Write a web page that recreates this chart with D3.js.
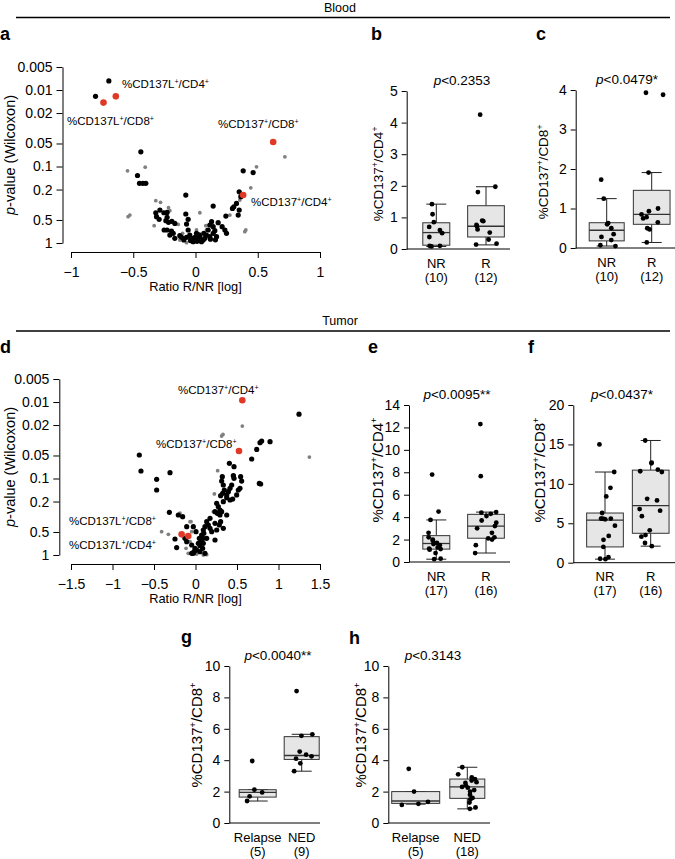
<!DOCTYPE html>
<html><head><meta charset="utf-8">
<script src="https://cdn.jsdelivr.net/npm/d3@7"></script>
<style>body{margin:0;background:#fff} svg{display:block}</style>
</head><body><svg id="c" width="675" height="859"></svg>
<script>
// ---------------- DATA ----------------
const pTicks = [0.005, 0.01, 0.02, 0.05, 0.1, 0.2, 0.5, 1];
const pTickLabels = ["0.005", "0.01", "0.02", "0.05", "0.1", "0.2", "0.5", "1"];
const bloodRatioTicks = [-1, -0.5, 0, 0.5, 1];
const tumorRatioTicks = [-1.5, -1, -0.5, 0, 0.5, 1, 1.5];

// Blood volcano: [ratio R/NR (log), p-value]
const bloodBlack = [[-0.696,0.0076],[-0.803,0.0121],[-0.439,0.0643],[-0.466,0.131],[-0.45,0.166],[-0.423,0.166],[-0.399,0.166],[-0.078,0.236],[-0.319,0.402],[-0.286,0.371],[-0.254,0.402],[-0.228,0.398],[-0.292,0.491],[-0.228,0.462],[-0.238,0.511],[-0.217,0.537],[-0.19,0.521],[-0.166,0.554],[-0.078,0.418],[-0.059,0.491],[-0.072,0.565],[-0.252,0.676],[-0.228,0.676],[-0.193,0.697],[-0.179,0.748],[-0.166,0.869],[-0.126,0.802],[-0.094,0.914],[-0.059,0.676],[-0.046,0.787],[-0.032,0.869],[-0.019,0.914],[0.008,0.748],[0.035,0.826],[0.062,0.914],[-0.019,0.961],[0.102,0.676],[0.115,0.826],[0.129,0.527],[0.142,0.612],[0.155,0.69],[0.142,0.748],[0.169,0.826],[0.182,0.543],[0.214,0.612],[0.236,0.676],[0.249,0.748],[0.142,0.329],[0.244,0.444],[0.297,0.353],[0.308,0.336],[0.329,0.304],[0.351,0.214],[0.364,0.248],[0.351,0.371],[0.343,0.431],[0.383,0.114],[0.463,0.12],[0.021,0.869],[0.048,0.961],[0.075,0.869],[0.088,0.787],[-0.005,0.843],[-0.072,0.843],[-0.112,0.843],[-0.206,0.787],[-0.313,0.453],[0.115,0.582],[0.067,0.748],[0.0,0.9],[0.012,0.95],[-0.04,0.93],[0.03,0.78],[0.12,0.89],[0.16,0.91]];
const bloodGray = [[-0.546,0.114],[-0.404,0.102],[-0.541,0.453],[-0.527,0.431],[-0.319,0.28],[-0.281,0.294],[-0.217,0.346],[-0.206,0.378],[-0.332,0.594],[-0.139,0.571],[0.035,0.402],[0.083,0.594],[0.276,0.431],[0.356,0.275],[0.396,0.711],[0.404,0.676],[0.444,0.19],[0.49,0.101],[0.718,0.0747],[-0.126,0.914],[-0.072,0.99],[-0.032,0.914],[0.008,0.676],[0.088,0.676],[-0.104,0.748]];
const bloodRed = [[-0.739,0.0146],[-0.64,0.0121],[0.624,0.0479],[0.383,0.2353]];

// Tumor volcano
const tumorBlack = [[1.247,0.0144],[-0.677,0.0493],[-0.657,0.0798],[-0.468,0.1026],[-0.468,0.1413],[-0.307,0.0839],[0.777,0.034],[0.797,0.0324],[0.898,0.033],[0.737,0.0416],[0.677,0.0556],[0.408,0.0634],[0.464,0.07],[0.769,0.116],[0.785,0.118],[0.323,0.0946],[0.315,0.108],[0.335,0.1216],[0.347,0.1413],[0.327,0.156],[0.376,0.164],[0.396,0.1486],[0.416,0.1345],[0.436,0.1216],[0.456,0.0918],[0.464,0.0995],[0.544,0.0946],[0.556,0.108],[0.536,0.1345],[0.516,0.1413],[0.496,0.164],[0.448,0.1855],[0.416,0.191],[0.376,0.178],[0.335,0.201],[0.303,0.1676],[0.255,0.211],[0.275,0.2336],[0.295,0.258],[0.235,0.2716],[0.263,0.285],[0.315,0.2716],[0.295,0.3],[0.376,0.3],[0.235,0.3855],[0.175,0.332],[0.135,0.367],[0.155,0.4055],[0.114,0.4264],[0.175,0.448],[0.195,0.4955],[0.255,0.471],[0.303,0.367],[0.335,0.448],[0.287,0.4055],[0.235,0.637],[0.094,0.471],[0.074,0.548],[0.094,0.606],[0.062,0.67],[0.094,0.704],[0.054,0.755],[0.086,0.818],[0.054,0.904],[0.014,0.861],[-0.018,0.904],[-0.046,0.951],[0.114,0.951],[0.034,0.704],[-0.315,0.277],[-0.207,0.3],[-0.155,0.3155],[-0.106,0.4264],[-0.247,0.618],[-0.127,0.606],[-0.106,0.67],[-0.227,0.8],[-0.046,0.74],[-0.006,0.818],[0.006,0.4955],[-0.026,0.4264],[-0.026,0.951],[0.135,0.606],[0.1,0.52],[0.046,0.606]];
const tumorGray = [[0.564,0.0206],[0.315,0.0278],[0.331,0.0265],[1.372,0.0524],[0.267,0.079],[0.466,0.0918],[0.227,0.159],[-0.054,0.367],[-0.408,0.4955],[-0.327,0.537],[-0.114,0.818],[-0.087,0.951],[-0.066,0.367],[-0.046,0.4955],[-0.066,0.67],[0.094,1.0],[0.215,0.2716],[-0.187,0.283],[0.135,0.99],[0.014,0.97],[0.263,0.471]];
const tumorRed = [[0.564,0.0095],[0.524,0.0437],[-0.167,0.537],[-0.087,0.565]];

// Box plots: categories, counts, values, and [whiskerLow, Q1, median, Q3, whiskerHigh]
const respCats = ["NR", "R"];
const outcomeCats = ["Relapse", "NED"];
const bloodCounts = ["(10)", "(12)"];
const tumorCounts = ["(17)", "(16)"];
const gCounts = ["(5)", "(9)"];
const hCounts = ["(5)", "(18)"];

const bloodCD4NR = [1.42,1.1,0.85,0.7,0.6,0.5,0.38,0.1,0.1,0.08];
const bloodCD4R  = [4.25,1.97,1.8,0.9,0.88,0.76,0.72,0.62,0.52,0.3,0.17,0.14];
const bloodCD4Stats = [[0.08,0.12,0.52,0.83,1.42],[0.13,0.38,0.72,1.37,1.97]];

const bloodCD8NR = [1.73,1.25,0.63,0.6,0.5,0.35,0.28,0.2,0.07,0.05];
const bloodCD8R  = [3.93,3.88,1.91,1.0,0.93,0.85,0.78,0.75,0.65,0.5,0.47,0.14];
const bloodCD8Stats = [[0.05,0.18,0.45,0.64,1.25],[0.14,0.6,0.85,1.46,1.91]];

const tumorCD4NR = [7.8,4.5,3.75,2.6,2.2,2.0,1.9,1.7,1.6,1.5,1.3,1.2,1.15,1.1,0.8,0.3,0.25];
const tumorCD4R  = [12.3,7.65,4.45,4.4,4.3,4.1,3.7,3.5,3.2,3.0,2.6,2.2,2.1,2.0,1.5,0.8];
const tumorCD4Stats = [[0.25,1.15,1.65,2.35,3.75],[0.8,2.12,3.2,4.25,4.45]];

const tumorCD8NR = [15.0,11.5,9.5,8.4,6.3,5.6,5.6,5.6,5.55,5.5,4.7,3.4,2.9,2.0,0.7,0.5,0.45];
const tumorCD8R  = [15.5,12.7,12.6,11.8,11.6,11.5,8.1,7.9,6.8,6.6,5.9,4.1,3.5,3.3,2.5,2.1];
const tumorCD8Stats = [[0.45,2.0,5.4,6.3,11.5],[2.1,3.73,7.25,11.74,15.5]];

const gRelapse = [3.95,2.12,1.95,1.7,1.4];
const gNED     = [8.4,5.65,5.55,4.55,4.35,4.25,4.1,3.8,3.3];
const gStats = [[1.4,1.65,1.95,2.12,2.12],[3.3,4.05,4.3,5.5,5.65]];

const hRelapse = [3.45,2.0,1.35,1.22,1.15];
const hNED     = [3.55,3.1,2.9,2.8,2.7,2.6,2.55,2.4,2.3,2.25,2.1,2.0,1.8,1.6,1.5,1.3,1.0,0.9];
const hStats = [[1.2,1.25,1.4,2.0,2.0],[0.9,1.57,2.3,2.8,3.55]];

// ---------------- DRAWING ----------------
const FONT = '"Liberation Sans", Arial, Helvetica, sans-serif';
const svg = d3.select("#c").attr("font-family", FONT);

function styleAxis(sel, fs) {
  sel.attr("font-family", FONT).attr("font-size", fs);
  sel.selectAll("text").attr("fill", "#000");
  sel.selectAll("path,line").attr("stroke", "#000").attr("stroke-width", 1);
}

function rich(textSel, parts, fs) {
  let lifted = false;
  parts.forEach(([t, s]) => {
    const ts = textSel.append("tspan").text(t);
    if (s === "i") ts.attr("font-style", "italic");
    if (s === "sup") { ts.attr("font-size", fs * 0.62).attr("dy", -fs * 0.38); lifted = true; }
    else if (lifted) { ts.attr("dy", fs * 0.38); lifted = false; }
  });
  return textSel;
}
function cdLabel(marker, cell) {
  return [["%CD137" + marker, ""], ["+", "sup"], ["/" + cell, ""], ["+", "sup"]];
}

function section(title, yLine, yText) {
  svg.append("line").attr("x1", 16).attr("x2", 670).attr("y1", yLine).attr("y2", yLine)
    .attr("stroke", "#000").attr("stroke-width", 1.6);
  svg.append("text").attr("x", 340).attr("y", yText).attr("text-anchor", "middle")
    .attr("font-size", 12.5).text(title);
}
function letter(t, x, y) {
  svg.append("text").attr("x", x).attr("y", y).attr("font-size", 18).attr("font-weight", "bold").text(t);
}

function volcano(cfg) {
  const g = svg.append("g");
  const x = d3.scaleLinear().domain(cfg.xDomain).range([cfg.xLeft, cfg.xRight]);
  const y = d3.scaleLog().domain([1, 0.005]).range([cfg.yBottom, cfg.yTop]);
  g.append("g").attr("transform", `translate(${cfg.yAxisX},0)`)
    .call(d3.axisLeft(y).tickValues(pTicks).tickFormat((d, i) => pTickLabels[i]).tickSize(6).tickSizeOuter(0).tickPadding(4))
    .call(styleAxis, 14);
  g.append("g").attr("transform", `translate(0,${cfg.xAxisY})`)
    .call(d3.axisBottom(x).tickValues(cfg.xTicks).tickFormat(d3.format("")).tickSize(6).tickSizeOuter(0).tickPadding(9))
    .call(styleAxis, 14);
  g.append("text").attr("x", x(0)).attr("y", cfg.xAxisY + 39).attr("text-anchor", "middle")
    .attr("font-size", 12.8).text("Ratio R/NR [log]");
  const yt = g.append("text").attr("transform", `translate(${cfg.yTitleX},${(cfg.yTop + cfg.yBottom) / 2}) rotate(-90)`)
    .attr("text-anchor", "middle").attr("font-size", 14.5);
  rich(yt, [["p", "i"], ["-value (Wilcoxon)", ""]], 14.5);

  g.selectAll(".gr").data(cfg.gray).join("circle").attr("cx", d => x(d[0])).attr("cy", d => y(d[1]))
    .attr("r", 1.9).attr("fill", "#808080");
  g.selectAll(".bk").data(cfg.black).join("circle").attr("cx", d => x(d[0])).attr("cy", d => y(d[1]))
    .attr("r", 2.6).attr("fill", "#000");
  g.selectAll(".rd").data(cfg.red).join("circle").attr("cx", d => x(d[0])).attr("cy", d => y(d[1]))
    .attr("r", 3.3).attr("fill", "#e03a26");
  cfg.labels.forEach(l => {
    const t = g.append("text").attr("x", l.x).attr("y", l.y).attr("font-size", 11.5);
    rich(t, cdLabel(l.m, l.c), 11.5);
  });
}

function boxPanel(cfg) {
  const g = svg.append("g");
  const y = d3.scaleLinear().domain([0, cfg.max]).range([cfg.y0, cfg.y1]);
  const x = d3.scalePoint().domain(cfg.cats).range(cfg.centers);
  g.append("g").attr("transform", `translate(${cfg.ax},0)`)
    .call(d3.axisLeft(y).tickValues(cfg.ticks).tickFormat(d3.format("d")).tickSize(5).tickSizeOuter(0).tickPadding(4))
    .call(styleAxis, 14);
  g.append("line").attr("x1", cfg.ax).attr("x2", cfg.axEnd).attr("y1", y(0)).attr("y2", y(0))
    .attr("stroke", "#000").attr("stroke-width", 1);
  cfg.stats.forEach((s, i) => {
    const cx = x(cfg.cats[i]), w = cfg.widths[i], cap = 10;
    g.append("line").attr("x1", cx).attr("x2", cx).attr("y1", y(s[0])).attr("y2", y(s[1])).attr("stroke", "#222");
    g.append("line").attr("x1", cx).attr("x2", cx).attr("y1", y(s[3])).attr("y2", y(s[4])).attr("stroke", "#222");
    [s[0], s[4]].forEach(v => g.append("line").attr("x1", cx - cap).attr("x2", cx + cap)
      .attr("y1", y(v)).attr("y2", y(v)).attr("stroke", "#222"));
    g.append("rect").attr("x", cx - w / 2).attr("width", w).attr("y", y(s[3])).attr("height", y(s[1]) - y(s[3]))
      .attr("fill", "#e6e6e6").attr("stroke", "#333").attr("stroke-width", 1);
    g.append("line").attr("x1", cx - w / 2).attr("x2", cx + w / 2).attr("y1", y(s[2])).attr("y2", y(s[2]))
      .attr("stroke", "#333").attr("stroke-width", 1.3);
  });
  cfg.values.forEach((vals, i) => {
    const cx = x(cfg.cats[i]), w = cfg.widths[i];
    const rnd = d3.randomLcg(cfg.seed + i * 7);
    g.selectAll(null).data(vals).join("circle")
      .attr("cx", () => cx + (rnd() - 0.5) * w * 0.62).attr("cy", d => y(d)).attr("r", 2.4).attr("fill", "#000");
    g.append("text").attr("x", cx).attr("y", cfg.y0 + 18.5).attr("text-anchor", "middle").attr("font-size", 13).text(cfg.cats[i]);
    g.append("text").attr("x", cx).attr("y", cfg.y0 + 32.5).attr("text-anchor", "middle").attr("font-size", 13).text(cfg.counts[i]);
  });
  const pt = g.append("text").attr("x", cfg.pX).attr("y", cfg.y1 - 6).attr("text-anchor", "middle").attr("font-size", 13.5);
  rich(pt, [["p", "i"], [cfg.pText, ""]], 13.5);
  const yt = g.append("text").attr("transform", `translate(${cfg.yTitleX},${cfg.yTitleY}) rotate(-90)`)
    .attr("text-anchor", "middle").attr("font-size", cfg.titleSize);
  rich(yt, cdLabel("", cfg.cell), cfg.titleSize);
}

// ---------------- LAYOUT ----------------
section("Blood", 17.5, 11.5);
section("Tumor", 331, 325);
letter("a", 0, 39.5); letter("b", 371, 39.5); letter("c", 536, 39.5);
letter("d", 0, 353); letter("e", 368, 353); letter("f", 528, 353);
letter("g", 181, 643); letter("h", 349, 644);

volcano({xDomain: [-1, 1], xLeft: 71, xRight: 320, yTop: 67, yBottom: 243, yAxisX: 62.5, xAxisY: 252,
  xTicks: bloodRatioTicks, yTitleX: 15, black: bloodBlack, gray: bloodGray, red: bloodRed,
  labels: [{m: "L", c: "CD4", x: 122, y: 88}, {m: "L", c: "CD8", x: 67, y: 125},
           {m: "", c: "CD8", x: 218, y: 128}, {m: "", c: "CD4", x: 251, y: 206}]});
volcano({xDomain: [-1.5, 1.5], xLeft: 71, xRight: 320, yTop: 379, yBottom: 555, yAxisX: 59.3, xAxisY: 564,
  xTicks: tumorRatioTicks, yTitleX: 15, black: tumorBlack, gray: tumorGray, red: tumorRed,
  labels: [{m: "", c: "CD4", x: 178, y: 394}, {m: "", c: "CD8", x: 156, y: 448},
           {m: "L", c: "CD8", x: 69, y: 525}, {m: "L", c: "CD4", x: 69, y: 549}]});

boxPanel({cats: respCats, counts: bloodCounts, values: [bloodCD4NR, bloodCD4R], stats: bloodCD4Stats,
  max: 5, ticks: [0,1,2,3,4,5], y0: 249, y1: 91, ax: 406.7, axEnd: 510, centers: [436.3, 486], widths: [27, 36.7],
  pX: 462, pText: "<0.2353", cell: "CD4", yTitleX: 383, yTitleY: 174, titleSize: 13.5, seed: 11});
boxPanel({cats: respCats, counts: bloodCounts, values: [bloodCD8NR, bloodCD8R], stats: bloodCD8Stats,
  max: 4, ticks: [0,1,2,3,4], y0: 248, y1: 90, ax: 575.7, axEnd: 675, centers: [606.7, 651.7], widths: [35, 36.7],
  pX: 627, pText: "<0.0479*", cell: "CD8", yTitleX: 548, yTitleY: 172, titleSize: 13.5, seed: 23});
boxPanel({cats: respCats, counts: tumorCounts, values: [tumorCD4NR, tumorCD4R], stats: tumorCD4Stats,
  max: 14, ticks: [0,2,4,6,8,10,12,14], y0: 562, y1: 405, ax: 409, axEnd: 510, centers: [436.3, 486], widths: [27, 36.7],
  pX: 457, pText: "<0.0095**", cell: "CD4", yTitleX: 383, yTitleY: 470, titleSize: 15, seed: 37});
boxPanel({cats: respCats, counts: tumorCounts, values: [tumorCD8NR, tumorCD8R], stats: tumorCD8Stats,
  max: 20, ticks: [0,5,10,15,20], y0: 562.7, y1: 405, ax: 573.3, axEnd: 675, centers: [605, 650.7], widths: [36.7, 36.7],
  pX: 622, pText: "<0.0437*", cell: "CD8", yTitleX: 545, yTitleY: 470, titleSize: 15, seed: 51});
boxPanel({cats: outcomeCats, counts: gCounts, values: [gRelapse, gNED], stats: gStats,
  max: 10, ticks: [0,2,4,6,8,10], y0: 823, y1: 666, ax: 229.3, axEnd: 320, centers: [257.7, 301.7], widths: [37, 35],
  pX: 278, pText: "<0.0040**", cell: "CD8", yTitleX: 202, yTitleY: 735, titleSize: 15, seed: 67});
boxPanel({cats: outcomeCats, counts: hCounts, values: [hRelapse, hNED], stats: hStats,
  max: 10, ticks: [0,2,4,6,8,10], y0: 823, y1: 666, ax: 388.3, axEnd: 490, centers: [415.7, 467.3], widths: [48, 35],
  pX: 433, pText: "<0.3143", cell: "CD8", yTitleX: 366, yTitleY: 735, titleSize: 15, seed: 79});
</script></body></html>
